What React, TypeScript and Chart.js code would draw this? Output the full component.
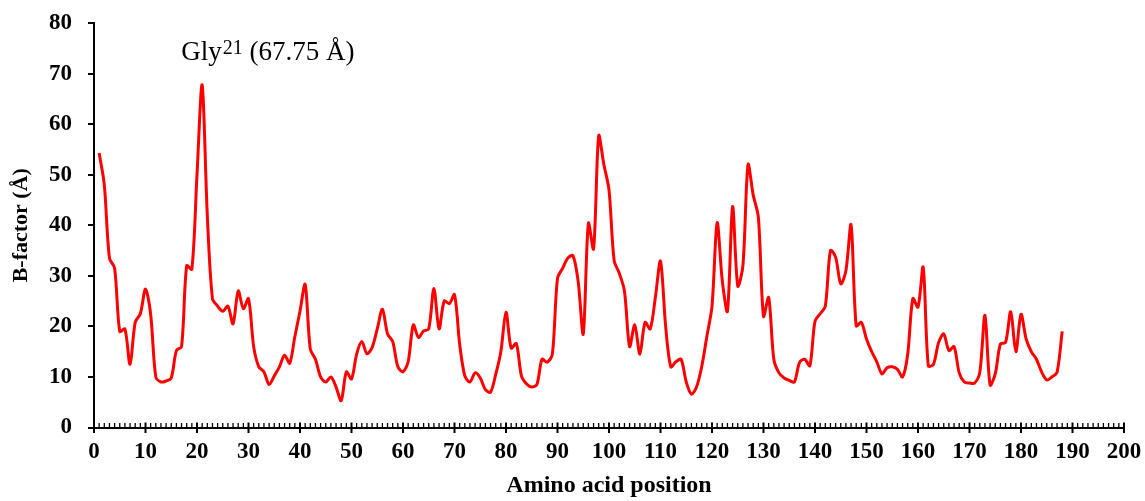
import React, { useEffect, useRef } from 'react';
import { Chart, registerables } from 'chart.js';

Chart.register(...registerables);

// ---- Data ----
const firstPosition = 1;
const bFactor: number[] = [
  54.3, 48, 33.5, 31.5, 19, 19.5, 12.5, 20.8, 22.5, 27.4,
  22.4, 10, 9, 9.2, 9.8, 15.2, 16, 32, 31.3, 50,
  67.75, 42, 25.5, 24, 23, 24, 20.5, 27, 23.5, 25.5,
  16, 12, 11, 8.5, 10.2, 12, 14.3, 12.7, 18, 23,
  28.3, 15.5, 13.5, 10, 9, 10, 8, 5.3, 11, 9.6,
  14.5, 17, 14.6, 15.8, 19.5, 23.4, 18.5, 17, 12, 11,
  13, 20.3, 17.8, 19.1, 19.5, 27.5, 19.5, 25, 24.5, 26.3,
  16.5, 10.2, 9, 10.8, 9.8, 7.5, 7, 10.5, 15, 22.8,
  15.7, 16.6, 10.2, 8.6, 8, 8.5, 13.5, 12.9, 14.5, 29.5,
  31.5, 33.5, 34, 29, 18.5, 40.4, 35.3, 57.7, 52, 47,
  33, 30.5, 27, 16, 20.3, 14.5, 20.8, 19.5, 25.7, 32.9,
  20, 12, 13, 13.5, 9, 6.6, 8, 12, 18, 24,
  40.5, 29, 23, 43.7, 28, 32, 52, 46, 41.6, 22,
  25.7, 13.5, 10.8, 9.8, 9.3, 9, 12.9, 13.5, 12.2, 21,
  22.5, 24, 35, 33.7, 28.4, 31, 40.1, 20.1, 20.8, 17.5,
  15, 13, 10.6, 11.8, 12, 11.5, 10, 14.5, 25.5, 23.8,
  31.7, 12.2, 12.5, 16.8, 18.5, 15.2, 16, 10.8, 9, 8.8,
  8.8, 10.9, 22.2, 8.4, 10.6, 16.5, 16.8, 22.9, 15, 22.4,
  17.5, 15, 13.5, 11, 9.4, 10, 10.9, 19,
];

const xMin = 0;
const xMax = 200;
const xMajorStep = 10;
const xMinorStep = 1;
const yMin = 0;
const yMax = 80;
const yStep = 10;

const peakResidue = 21;
const peakValue = 67.75;
const peakName = 'Gly';
const peakSup = '21';
const peakRest = ' (67.75 Å)';

const xTitle = 'Amino acid position';
const yTitle = 'B-factor (Å)';

const SERIF = "'Liberation Serif', 'Times New Roman', serif";

const ticksPlugin = {
  id: 'customTicks',
  afterDraw(chart: any) {
    const { ctx, scales } = chart;
    const x = scales.x;
    const y = scales.y;
    const y0 = y.getPixelForValue(0);
    ctx.save();
    ctx.strokeStyle = '#000';
    for (let v = xMin; v <= xMax; v += xMinorStep) {
      const major = v % xMajorStep === 0;
      const px = x.getPixelForValue(v);
      ctx.lineWidth = major ? 2 : 1.3;
      ctx.beginPath();
      ctx.moveTo(px, y0 - (major ? 5 : 4.5));
      ctx.lineTo(px, y0 + (major ? 5.5 : 0));
      ctx.stroke();
    }
    // annotation for the peak
    const px = x.getPixelForValue(peakResidue);
    const py = y.getPixelForValue(peakValue);
    const baseX = px - 21;
    const baseY = py - 24.5;
    ctx.fillStyle = '#000';
    ctx.textBaseline = 'alphabetic';
    ctx.textAlign = 'left';
    ctx.font = `27px ${SERIF}`;
    ctx.fillText(peakName, baseX, baseY);
    let cx = baseX + ctx.measureText(peakName).width + 1;
    ctx.font = `20px ${SERIF}`;
    ctx.fillText(peakSup, cx, baseY - 6);
    cx += ctx.measureText(peakSup).width;
    ctx.font = `27px ${SERIF}`;
    ctx.fillText(peakRest, cx, baseY);
    ctx.restore();
  },
};

export default function App() {
  const canvasRef = useRef<HTMLCanvasElement | null>(null);

  useEffect(() => {
    if (!canvasRef.current) return;
    const points = bFactor.map((v, i) => ({ x: firstPosition + i, y: v }));
    const tickFont = { family: SERIF, size: 23, weight: 'bold' as const };
    const chart = new Chart(canvasRef.current, {
      type: 'line',
      data: {
        datasets: [
          {
            data: points,
            borderColor: '#ff0000',
            borderWidth: 3,
            pointRadius: 0,
            tension: 0.3,
            fill: false,
          },
        ],
      },
      options: {
        responsive: true,
        maintainAspectRatio: false,
        animation: false,
        layout: { padding: { top: 23, right: 21, bottom: 0, left: 0 } },
        plugins: { legend: { display: false }, tooltip: { enabled: false } },
        scales: {
          x: {
            type: 'linear',
            min: xMin,
            max: xMax,
            ticks: {
              stepSize: xMajorStep,
              autoSkip: false,
              maxRotation: 0,
              color: '#000',
              font: tickFont,
              padding: 11,
            },
            grid: { display: false, drawTicks: false, tickLength: 0 },
            border: { display: true, color: '#000', width: 2 },
            title: {
              display: true,
              text: xTitle,
              color: '#000',
              font: { family: SERIF, size: 24, weight: 'bold' as const },
              padding: { top: 0, bottom: 1 },
            },
            afterFit: (s: any) => {
              s.height = 73.5;
              s.paddingLeft = 0;
              s.paddingRight = 0;
            },
          },
          y: {
            min: yMin,
            max: yMax,
            ticks: {
              stepSize: yStep,
              color: '#000',
              font: tickFont,
              padding: 16,
            },
            grid: {
              display: true,
              drawOnChartArea: false,
              drawTicks: true,
              tickLength: 6,
              color: '#000',
              lineWidth: 2,
            },
            border: { display: true, color: '#000', width: 2 },
            title: {
              display: true,
              text: yTitle,
              color: '#000',
              font: { family: SERIF, size: 22, weight: 'bold' as const },
              padding: { top: 8, bottom: 0 },
            },
            afterFit: (s: any) => {
              s.width = 94;
              s.paddingTop = 0;
              s.paddingBottom = 0;
            },
          },
        },
      },
      plugins: [ticksPlugin],
    });
    return () => chart.destroy();
  }, []);

  return (
    <div style={{ position: 'absolute', left: 0, top: 0, width: 1145, height: 501, background: '#fff' }}>
      <canvas ref={canvasRef} />
    </div>
  );
}
